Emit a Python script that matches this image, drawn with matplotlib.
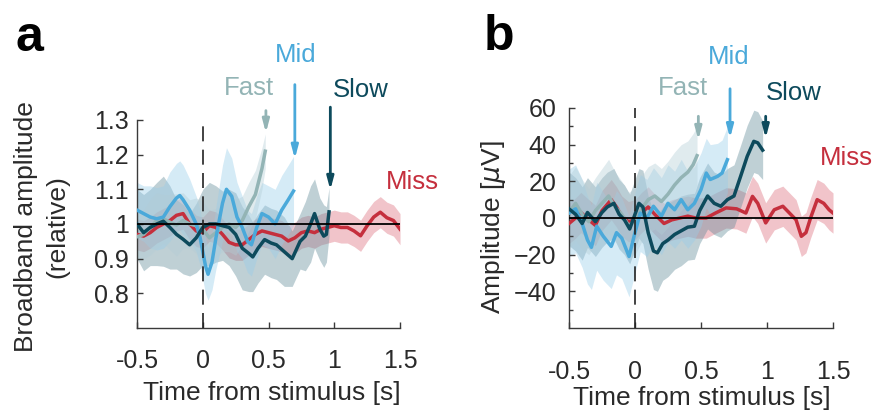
import numpy as np
import matplotlib
matplotlib.use('Agg')
import matplotlib.pyplot as plt

plt.rcParams['font.family'] = ['Liberation Sans', 'DejaVu Sans']

# ---------------- panel a : broadband amplitude (relative) ----------------
a_fast_t = [-0.5, -0.45, -0.4, -0.35, -0.3, -0.25, -0.2, -0.15, -0.1, -0.05, 0.0,
            0.05, 0.1, 0.15, 0.2, 0.25, 0.3, 0.35, 0.4, 0.45, 0.475]
a_fast = [0.963, 0.97, 0.99, 1.01, 1.015, 1.005, 0.997, 1.01, 1.0, 0.995, 0.985,
          0.96, 0.975, 0.99, 1.0, 0.99, 1.01, 1.05, 1.085, 1.16, 1.21]
a_fast_err = [0.07, 0.07, 0.08, 0.08, 0.07, 0.08, 0.09, 0.08, 0.07, 0.08, 0.08,
              0.08, 0.07, 0.07, 0.08, 0.08, 0.07, 0.07, 0.07, 0.06, 0.05]

a_mid_t = [-0.5, -0.45, -0.4, -0.35, -0.3, -0.25, -0.2, -0.175, -0.15, -0.1, -0.05,
           -0.02, 0.02, 0.04, 0.07, 0.1, 0.15, 0.18, 0.22, 0.26, 0.3, 0.34, 0.37,
           0.41, 0.45, 0.5, 0.55, 0.6, 0.65, 0.69]
a_mid = [1.04, 1.03, 1.02, 1.015, 1.02, 1.05, 1.075, 1.082, 1.07, 1.04, 1.0,
         0.96, 0.88, 0.855, 0.89, 0.96, 1.06, 1.10, 1.08, 1.02, 0.99, 0.95, 0.94,
         0.99, 1.03, 1.02, 1.0, 1.04, 1.07, 1.095]
a_mid_err = [0.08, 0.08, 0.09, 0.09, 0.09, 0.1, 0.1, 0.1, 0.1, 0.09, 0.08,
             0.08, 0.08, 0.075, 0.08, 0.09, 0.11, 0.12, 0.11, 0.1, 0.09, 0.09, 0.09,
             0.09, 0.09, 0.09, 0.1, 0.1, 0.1, 0.1]

a_slow_t = [-0.5, -0.45, -0.4, -0.35, -0.3, -0.25, -0.2, -0.15, -0.1, -0.05, 0.0,
            0.05, 0.1, 0.15, 0.2, 0.25, 0.3, 0.35, 0.38, 0.42, 0.47, 0.52, 0.56,
            0.62, 0.68, 0.74, 0.78, 0.82, 0.85, 0.89, 0.92, 0.94, 0.96]
a_slow = [1.0, 0.975, 0.99, 1.0, 1.008, 0.99, 0.97, 0.956, 0.94, 0.96, 0.99,
          1.0, 1.0, 0.995, 0.99, 0.97, 0.93, 0.915, 0.905, 0.93, 0.955, 0.945, 0.94,
          0.92, 0.90, 0.95, 0.965, 1.0, 1.03, 0.985, 0.965, 0.97, 1.035]
a_slow_err = [0.1, 0.11, 0.11, 0.12, 0.13, 0.12, 0.1, 0.1, 0.09, 0.1, 0.11,
              0.12, 0.11, 0.1, 0.11, 0.12, 0.12, 0.11, 0.1, 0.1, 0.1, 0.1, 0.1,
              0.1, 0.08, 0.08, 0.1, 0.11, 0.1, 0.09, 0.09, 0.08, 0.07]

a_miss_t = [-0.5, -0.45, -0.4, -0.35, -0.3, -0.25, -0.2, -0.15, -0.1, -0.05, 0.0,
            0.05, 0.1, 0.15, 0.2, 0.25, 0.3, 0.35, 0.4, 0.45, 0.5, 0.55, 0.6, 0.65,
            0.7, 0.75, 0.8, 0.85, 0.9, 0.95, 1.0, 1.05, 1.1, 1.15, 1.2, 1.25, 1.3,
            1.35, 1.4, 1.45, 1.5]
a_miss = [0.97, 0.965, 0.975, 0.99, 1.0, 1.01, 1.025, 1.03, 1.0, 0.98, 0.975,
          0.995, 0.99, 0.97, 0.947, 0.94, 0.94, 0.955, 0.97, 0.98, 0.975, 0.97, 0.965, 0.951,
          0.96, 0.975, 0.98, 0.975, 0.985, 0.99, 0.995, 0.99, 0.99, 0.98, 0.966, 0.995, 1.02,
          1.034, 1.018, 1.01, 0.985]
a_miss_err = [0.045] * len(a_miss)

# ---------------- panel b : amplitude (uV) ----------------
b_fast_t = [-0.5, -0.45, -0.4, -0.35, -0.3, -0.25, -0.2, -0.15, -0.1, -0.05, 0.0,
            0.05, 0.1, 0.15, 0.2, 0.25, 0.3, 0.35, 0.4, 0.44, 0.47]
b_fast = [3, 8, 2, -2, 4, 8, 12, 6, 2, -4, -2,
          5, 10, 12, 9, 13, 18, 22, 25, 29, 34]
b_fast_err = [20, 20, 19, 18, 18, 19, 20, 19, 18, 18, 18,
              18, 18, 18, 18, 18, 18, 18, 17, 17, 16]

b_mid_t = [-0.5, -0.45, -0.4, -0.36, -0.33, -0.29, -0.24, -0.18, -0.14, -0.1, -0.045,
           0.0, 0.04, 0.09, 0.14, 0.2, 0.25, 0.3, 0.35, 0.4, 0.45, 0.5, 0.54, 0.57,
           0.625, 0.66, 0.7]
b_mid = [2.7, 5, -3, -12, -16, -4.5, -10, -15.5, -8, -11, -21,
         -8, 2.7, 0, 6.4, 1, 8, 4.5, 10, 4.5, 8, 15.5, 24.5, 21,
         22.7, 24.5, 31.8]
b_mid_err = [24, 24, 24, 24, 23, 24, 24, 23, 23, 22, 22,
             22, 21, 21, 21, 21, 21, 21, 22, 21, 20, 20, 19, 19,
             18, 18, 18]

b_slow_t = [-0.5, -0.45, -0.4, -0.36, -0.3, -0.25, -0.21, -0.16, -0.12, -0.08, -0.04,
            0.0, 0.03, 0.06, 0.1, 0.14, 0.17, 0.21, 0.25, 0.3, 0.35, 0.4, 0.45, 0.49,
            0.55, 0.6, 0.65, 0.7, 0.75, 0.8, 0.85, 0.9, 0.93, 0.967]
b_slow = [5, 2, -3, 3, -2, 3, 6, 8, 2, -1, -6,
          2, 8, 6, -8, -18, -19, -14, -12, -9, -7, -5, -4.5, 4,
          12, 8, 6.4, 10, 12, 22.7, 33.6, 41.8, 41, 37]
b_slow_err = [20, 20, 20, 19, 19, 19, 19, 19, 19, 19, 19,
              19, 19, 20, 20, 21, 21, 20, 20, 19, 19, 18, 18, 18,
              18, 17, 17, 17, 17, 17, 17, 17, 17, 16]

b_miss_t = [-0.5, -0.45, -0.41, -0.35, -0.3, -0.25, -0.18, -0.14, -0.1, -0.05, 0.0,
            0.05, 0.1, 0.15, 0.22, 0.28, 0.34, 0.4, 0.46, 0.54, 0.61, 0.69, 0.77,
            0.84, 0.89, 0.93, 0.99, 1.055, 1.12, 1.17, 1.22, 1.26, 1.295, 1.33,
            1.38, 1.43, 1.47, 1.5]
b_miss = [-3, 0, 3, -1, -4, 4, 10, 6, 1, -2, -1,
          3, 6, 2, -3, -1, 0, 1, 0, 0, 2.7, 5.5, 5,
          2.7, 11.8, 8, -2.7, 4.5, 6.4, 2.7, -1, -10, -8, 0,
          10, 8, 4.5, 2.7]
b_miss_err = [11] * len(b_miss)

# ---------------- arrows / labels ----------------
conds = ['Fast', 'Mid', 'Slow']
arrow_t_a = [0.48, 0.70, 0.97]
arrow_t_b = [0.48, 0.72, 0.99]

c_fast, c_mid, c_slow, c_miss = '#93b4b5', '#4aa9da', '#0d4a5c', '#c52f3d'
f_fast, f_mid, f_slow, f_miss = '#b3cdd6', '#97cdea', '#5f8a98', '#e07e8a'
txt = '#2a2a2a'

fig = plt.figure(figsize=(8.74, 4.12), dpi=100)
ax1 = fig.add_axes([0.1568, 0.2039, 0.3009, 0.5049])
ax2 = fig.add_axes([0.6510, 0.2039, 0.3021, 0.5340])


def draw(ax, data, base):
    # shaded error bands, then reference lines
    for t, m, e, fc, al in data:
        t = np.array(t); m = np.array(m); e = np.array(e)
        ax.fill_between(t, m - e, m + e, color=fc, alpha=al, lw=0, zorder=1)
    ax.axhline(base, color='k', lw=1.3, zorder=5)
    ax.axvline(0, color='#222222', lw=1.2, dashes=(9, 5), zorder=6)


def style(ax, ylim, yticks, xpad, ypad):
    ax.set_xlim(-0.5, 1.5)
    ax.set_ylim(*ylim)
    ax.set_xticks([-0.5, 0, 0.5, 1, 1.5])
    ax.set_xticklabels(['-0.5', '0', '0.5', '1', '1.5'])
    ax.set_yticks(yticks)
    ax.spines['top'].set_visible(False)
    ax.spines['right'].set_visible(False)
    for s in ['left', 'bottom']:
        ax.spines[s].set_color('#3a3a3a')
        ax.spines[s].set_linewidth(1.0)
    ax.tick_params(direction='in', length=4, width=1, colors='#3a3a3a',
                   labelsize=18, labelcolor=txt)
    ax.tick_params(axis='x', pad=xpad)
    ax.tick_params(axis='y', pad=ypad)
    ax.patch.set_alpha(0)


# panel a
bands_a = [(a_miss_t, a_miss, a_miss_err, f_miss, 0.45),
           (a_slow_t, a_slow, a_slow_err, f_slow, 0.4),
           (a_mid_t, a_mid, a_mid_err, f_mid, 0.4),
           (a_fast_t, a_fast, a_fast_err, f_fast, 0.4)]
draw(ax1, bands_a, 1.0)
ax1.plot(a_miss_t, a_miss, color=c_miss, lw=2.5, zorder=3)
ax1.plot(a_fast_t, a_fast, color=c_fast, lw=2.5, zorder=3)
ax1.plot(a_mid_t, a_mid, color=c_mid, lw=2.5, zorder=3)
ax1.plot(a_slow_t, a_slow, color=c_slow, lw=2.5, zorder=4)
style(ax1, (0.7, 1.3), [0.8, 0.9, 1.0, 1.1, 1.2, 1.3], 15, 6)
ax1.set_yticklabels(['0.8', '0.9', '1', '1.1', '1.2', '1.3'])

# panel b
bands_b = [(b_miss_t, b_miss, b_miss_err, f_miss, 0.45),
           (b_slow_t, b_slow, b_slow_err, f_slow, 0.4),
           (b_mid_t, b_mid, b_mid_err, f_mid, 0.4),
           (b_fast_t, b_fast, b_fast_err, f_fast, 0.4)]
draw(ax2, bands_b, 0.0)
ax2.plot(b_miss_t, b_miss, color=c_miss, lw=2.5, zorder=3)
ax2.plot(b_fast_t, b_fast, color=c_fast, lw=2.5, zorder=3)
ax2.plot(b_mid_t, b_mid, color=c_mid, lw=2.5, zorder=3)
ax2.plot(b_slow_t, b_slow, color=c_slow, lw=2.5, zorder=4)
style(ax2, (-60, 60), [-40, -20, 0, 20, 40, 60], 23, 9)
ax2.set_yticks(np.arange(-50, 60, 10), minor=True)
ax2.tick_params(which='minor', direction='in', length=3, width=1, colors='#3a3a3a')

# arrows and condition names
cols = [c_fast, c_mid, c_slow]
a_start = [1.335, 1.41, 1.345]
a_tip = [1.255, 1.18, 1.09]
b_start = [57, 72, 57]
b_tip = [41, 42, 42]
for i in range(3):
    ax1.annotate('', xy=(arrow_t_a[i], a_tip[i]), xytext=(arrow_t_a[i], a_start[i]),
                 arrowprops=dict(arrowstyle='-|>,head_width=0.2,head_length=0.75',
                                 color=cols[i], lw=2), annotation_clip=False, zorder=8)
    ax2.annotate('', xy=(arrow_t_b[i], b_tip[i]), xytext=(arrow_t_b[i], b_start[i]),
                 arrowprops=dict(arrowstyle='-|>,head_width=0.2,head_length=0.75',
                                 color=cols[i], lw=2), annotation_clip=False, zorder=8)

lab_a = [(0.35, 1.392), (0.71, 1.488), (1.20, 1.387), (1.595, 1.12)]
lab_b = [(0.364, 71), (0.712, 88), (1.20, 68.3), (1.60, 32.9)]
names = conds + ['Miss']
lcols = cols + [c_miss]
for i in range(4):
    ax1.text(lab_a[i][0], lab_a[i][1], names[i], color=lcols[i], fontsize=18.5,
             ha='center', va='center', clip_on=False)
    ax2.text(lab_b[i][0], lab_b[i][1], names[i], color=lcols[i], fontsize=18.5,
             ha='center', va='center', clip_on=False)

# axis labels
fig.text(42 / 874, 1 - 227 / 412, 'Broadband amplitude\n(relative)', rotation=90,
         ha='center', va='center', fontsize=19, linespacing=1.4, color=txt)
fig.text(493 / 874, 1 - 227 / 412, r'Amplitude [$\mu$V]', rotation=90,
         ha='center', va='center', fontsize=19, color=txt)
fig.text(272 / 874, 1 - 393 / 412, 'Time from stimulus [s]', ha='center', va='center',
         fontsize=19, color=txt)
fig.text(702 / 874, 1 - 398 / 412, 'Time from stimulus [s]', ha='center', va='center',
         fontsize=19, color=txt)

# panel letters
fig.text(29 / 874, 1 - 51 / 412, 'a', fontsize=36, fontweight='bold', ha='center',
         va='baseline')
fig.text(499 / 874, 1 - 50 / 412, 'b', fontsize=36, fontweight='bold', ha='center',
         va='baseline')

fig.savefig('out.png', dpi=100)
